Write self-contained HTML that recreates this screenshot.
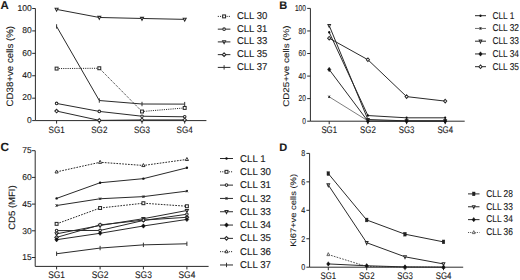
<!DOCTYPE html>
<html><head><meta charset="utf-8"><style>
html,body{margin:0;padding:0;background:#fff;}
svg{display:block;}
text{font-family:"Liberation Sans", sans-serif;fill:#1a1a1a;stroke:#1a1a1a;stroke-width:0.12px;text-rendering:geometricPrecision;}
</style></head><body>
<svg width="520" height="280" viewBox="0 0 520 280">
<rect width="520" height="280" fill="#fff"/>
<path d="M35.4,8.5V120.6H206.4" fill="none" stroke="#2a2a2a" stroke-width="1"/>
<path d="M32.199999999999996,120.60H35.4" stroke="#2a2a2a" stroke-width="1"/>
<text x="31.70" y="122.90" text-anchor="end" font-size="8.5">0</text>
<path d="M32.199999999999996,98.18H35.4" stroke="#2a2a2a" stroke-width="1"/>
<text x="31.70" y="100.48" text-anchor="end" font-size="8.5">20</text>
<path d="M32.199999999999996,75.76H35.4" stroke="#2a2a2a" stroke-width="1"/>
<text x="31.70" y="78.06" text-anchor="end" font-size="8.5">40</text>
<path d="M32.199999999999996,53.34H35.4" stroke="#2a2a2a" stroke-width="1"/>
<text x="31.70" y="55.64" text-anchor="end" font-size="8.5">60</text>
<path d="M32.199999999999996,30.92H35.4" stroke="#2a2a2a" stroke-width="1"/>
<text x="31.70" y="33.22" text-anchor="end" font-size="8.5">80</text>
<path d="M32.199999999999996,8.50H35.4" stroke="#2a2a2a" stroke-width="1"/>
<text x="31.70" y="10.80" text-anchor="end" font-size="8.5">100</text>
<path d="M56.60,120.6V123.6" stroke="#2a2a2a" stroke-width="1"/>
<text transform="translate(56.60,132.70) scale(0.88,1)" text-anchor="middle" font-size="9.2">SG1</text>
<path d="M99.30,120.6V123.6" stroke="#2a2a2a" stroke-width="1"/>
<text transform="translate(99.30,132.70) scale(0.88,1)" text-anchor="middle" font-size="9.2">SG2</text>
<path d="M142.00,120.6V123.6" stroke="#2a2a2a" stroke-width="1"/>
<text transform="translate(142.00,132.70) scale(0.88,1)" text-anchor="middle" font-size="9.2">SG3</text>
<path d="M184.70,120.6V123.6" stroke="#2a2a2a" stroke-width="1"/>
<text transform="translate(184.70,132.70) scale(0.88,1)" text-anchor="middle" font-size="9.2">SG4</text>
<text transform="translate(12.6,66.2) scale(0.96,1) rotate(-90)" text-anchor="middle" font-size="9.7">CD38+ve cells (%)</text>
<text x="0.50" y="8.60" font-size="11.4" font-weight="bold">A</text>
<path d="M56.60,68.59L99.30,68.25L142.00,111.52L184.70,107.93" fill="none" stroke="#2a2a2a" stroke-width="1" stroke-dasharray="1.1,1.1"/>
<rect x="55.15" y="67.14" width="2.90" height="2.90" fill="#fff" stroke="#2a2a2a" stroke-width="1.05"/>
<rect x="97.85" y="66.80" width="2.90" height="2.90" fill="#fff" stroke="#2a2a2a" stroke-width="1.05"/>
<rect x="140.55" y="110.07" width="2.90" height="2.90" fill="#fff" stroke="#2a2a2a" stroke-width="1.05"/>
<rect x="183.25" y="106.48" width="2.90" height="2.90" fill="#fff" stroke="#2a2a2a" stroke-width="1.05"/>
<path d="M56.60,103.45L99.30,111.41L142.00,116.23L184.70,116.79" fill="none" stroke="#2a2a2a" stroke-width="1"/>
<circle cx="56.60" cy="103.45" r="1.30" fill="#fff" stroke="#2a2a2a" stroke-width="1.05"/>
<circle cx="99.30" cy="111.41" r="1.30" fill="#fff" stroke="#2a2a2a" stroke-width="1.05"/>
<circle cx="142.00" cy="116.23" r="1.30" fill="#fff" stroke="#2a2a2a" stroke-width="1.05"/>
<circle cx="184.70" cy="116.79" r="1.30" fill="#fff" stroke="#2a2a2a" stroke-width="1.05"/>
<path d="M56.60,9.40L99.30,17.47L142.00,18.48L184.70,19.37" fill="none" stroke="#2a2a2a" stroke-width="1"/>
<path d="M55.10,8.30L58.10,8.30L56.60,11.20Z" fill="#fff" stroke="#2a2a2a" stroke-width="1.05"/>
<path d="M97.80,16.37L100.80,16.37L99.30,19.27Z" fill="#fff" stroke="#2a2a2a" stroke-width="1.05"/>
<path d="M140.50,17.38L143.50,17.38L142.00,20.28Z" fill="#fff" stroke="#2a2a2a" stroke-width="1.05"/>
<path d="M183.20,18.27L186.20,18.27L184.70,21.17Z" fill="#fff" stroke="#2a2a2a" stroke-width="1.05"/>
<path d="M56.60,111.07L99.30,120.38L142.00,119.93L184.70,119.93" fill="none" stroke="#2a2a2a" stroke-width="1"/>
<path d="M56.60,109.27L58.40,111.07L56.60,112.87L54.80,111.07Z" fill="#fff" stroke="#2a2a2a" stroke-width="1.05"/>
<path d="M99.30,118.58L101.10,120.38L99.30,122.18L97.50,120.38Z" fill="#fff" stroke="#2a2a2a" stroke-width="1.05"/>
<path d="M142.00,118.13L143.80,119.93L142.00,121.73L140.20,119.93Z" fill="#fff" stroke="#2a2a2a" stroke-width="1.05"/>
<path d="M184.70,118.13L186.50,119.93L184.70,121.73L182.90,119.93Z" fill="#fff" stroke="#2a2a2a" stroke-width="1.05"/>
<path d="M56.60,26.44L99.30,100.53L142.00,104.01L184.70,104.12" fill="none" stroke="#2a2a2a" stroke-width="1"/>
<path d="M56.60,24.24V28.64" stroke="#2a2a2a" stroke-width="0.95"/>
<path d="M99.30,98.33V102.73" stroke="#2a2a2a" stroke-width="0.95"/>
<path d="M142.00,101.81V106.21" stroke="#2a2a2a" stroke-width="0.95"/>
<path d="M184.70,101.92V106.32" stroke="#2a2a2a" stroke-width="0.95"/>
<path d="M217.8,16.40H230.4" stroke="#2a2a2a" stroke-width="1" stroke-dasharray="1.1,1.1"/>
<rect x="222.65" y="14.95" width="2.90" height="2.90" fill="#fff" stroke="#2a2a2a" stroke-width="1.05"/>
<text transform="translate(236.90,18.90) scale(0.965,1)" font-size="9.9">CLL 30</text>
<path d="M217.8,29.15H230.4" stroke="#2a2a2a" stroke-width="1"/>
<circle cx="224.10" cy="29.15" r="1.30" fill="#fff" stroke="#2a2a2a" stroke-width="1.05"/>
<text transform="translate(236.90,31.65) scale(0.965,1)" font-size="9.9">CLL 31</text>
<path d="M217.8,41.90H230.4" stroke="#2a2a2a" stroke-width="1"/>
<path d="M222.60,40.80L225.60,40.80L224.10,43.70Z" fill="#fff" stroke="#2a2a2a" stroke-width="1.05"/>
<text transform="translate(236.90,44.40) scale(0.965,1)" font-size="9.9">CLL 33</text>
<path d="M217.8,54.65H230.4" stroke="#2a2a2a" stroke-width="1"/>
<path d="M224.10,52.85L225.90,54.65L224.10,56.45L222.30,54.65Z" fill="#fff" stroke="#2a2a2a" stroke-width="1.05"/>
<text transform="translate(236.90,57.15) scale(0.965,1)" font-size="9.9">CLL 35</text>
<path d="M217.8,67.40H230.4" stroke="#2a2a2a" stroke-width="1"/>
<path d="M224.10,65.20V69.60" stroke="#2a2a2a" stroke-width="0.95"/>
<text transform="translate(236.90,69.90) scale(0.965,1)" font-size="9.9">CLL 37</text>
<path d="M310.4,8.4V121.2H464.7" fill="none" stroke="#2a2a2a" stroke-width="1"/>
<path d="M307.2,121.20H310.4" stroke="#2a2a2a" stroke-width="1"/>
<text transform="translate(306.00,124.00) scale(0.78,1)" text-anchor="end" font-size="8.5">0</text>
<path d="M307.2,98.64H310.4" stroke="#2a2a2a" stroke-width="1"/>
<text transform="translate(306.00,101.44) scale(0.78,1)" text-anchor="end" font-size="8.5">20</text>
<path d="M307.2,76.08H310.4" stroke="#2a2a2a" stroke-width="1"/>
<text transform="translate(306.00,78.88) scale(0.78,1)" text-anchor="end" font-size="8.5">40</text>
<path d="M307.2,53.52H310.4" stroke="#2a2a2a" stroke-width="1"/>
<text transform="translate(306.00,56.32) scale(0.78,1)" text-anchor="end" font-size="8.5">60</text>
<path d="M307.2,30.96H310.4" stroke="#2a2a2a" stroke-width="1"/>
<text transform="translate(306.00,33.76) scale(0.78,1)" text-anchor="end" font-size="8.5">80</text>
<path d="M307.2,8.40H310.4" stroke="#2a2a2a" stroke-width="1"/>
<text transform="translate(306.00,11.20) scale(0.78,1)" text-anchor="end" font-size="8.5">100</text>
<path d="M329.20,121.2V124.2" stroke="#2a2a2a" stroke-width="1"/>
<text transform="translate(329.20,132.90) scale(0.815,1)" text-anchor="middle" font-size="9.6">SG1</text>
<path d="M367.90,121.2V124.2" stroke="#2a2a2a" stroke-width="1"/>
<text transform="translate(367.90,132.90) scale(0.815,1)" text-anchor="middle" font-size="9.6">SG2</text>
<path d="M406.60,121.2V124.2" stroke="#2a2a2a" stroke-width="1"/>
<text transform="translate(406.60,132.90) scale(0.815,1)" text-anchor="middle" font-size="9.6">SG3</text>
<path d="M445.20,121.2V124.2" stroke="#2a2a2a" stroke-width="1"/>
<text transform="translate(445.20,132.90) scale(0.815,1)" text-anchor="middle" font-size="9.6">SG4</text>
<text transform="translate(289.2,66.1) scale(0.85,1) rotate(-90)" text-anchor="middle" font-size="9.8">CD25+ve cells (%)</text>
<text x="279.30" y="9.00" font-size="11" font-weight="bold">B</text>
<path d="M329.20,32.31L367.90,115.56L406.60,117.82L445.20,117.82" fill="none" stroke="#2a2a2a" stroke-width="1"/>
<g transform="translate(329.20,32.31) scale(0.89,1)"><circle cx="0.00" cy="0.00" r="1.2" fill="#111"/></g>
<g transform="translate(367.90,115.56) scale(0.89,1)"><circle cx="0.00" cy="0.00" r="1.2" fill="#111"/></g>
<g transform="translate(406.60,117.82) scale(0.89,1)"><circle cx="0.00" cy="0.00" r="1.2" fill="#111"/></g>
<g transform="translate(445.20,117.82) scale(0.89,1)"><circle cx="0.00" cy="0.00" r="1.2" fill="#111"/></g>
<path d="M329.20,96.84L367.90,120.86L406.60,120.64L445.20,120.64" fill="none" stroke="#707070" stroke-width="0.9"/>
<g transform="translate(329.20,96.84) scale(0.89,1)"><path d="M-1.10,-1.10L1.10,1.10M1.10,-1.10L-1.10,1.10M0.00,-1.20V1.20" stroke="#222" stroke-width="0.9"/></g>
<g transform="translate(367.90,120.86) scale(0.89,1)"><path d="M-1.10,-1.10L1.10,1.10M1.10,-1.10L-1.10,1.10M0.00,-1.20V1.20" stroke="#222" stroke-width="0.9"/></g>
<g transform="translate(406.60,120.64) scale(0.89,1)"><path d="M-1.10,-1.10L1.10,1.10M1.10,-1.10L-1.10,1.10M0.00,-1.20V1.20" stroke="#222" stroke-width="0.9"/></g>
<g transform="translate(445.20,120.64) scale(0.89,1)"><path d="M-1.10,-1.10L1.10,1.10M1.10,-1.10L-1.10,1.10M0.00,-1.20V1.20" stroke="#222" stroke-width="0.9"/></g>
<path d="M329.20,25.55L367.90,119.51L406.60,120.86L445.20,120.86" fill="none" stroke="#2a2a2a" stroke-width="1"/>
<g transform="translate(329.20,25.55) scale(0.89,1)"><path d="M-1.50,-1.10L1.50,-1.10L0.00,1.80Z" fill="#fff" stroke="#2a2a2a" stroke-width="1.05"/></g>
<g transform="translate(367.90,119.51) scale(0.89,1)"><path d="M-1.50,-1.10L1.50,-1.10L0.00,1.80Z" fill="#fff" stroke="#2a2a2a" stroke-width="1.05"/></g>
<g transform="translate(406.60,120.86) scale(0.89,1)"><path d="M-1.50,-1.10L1.50,-1.10L0.00,1.80Z" fill="#fff" stroke="#2a2a2a" stroke-width="1.05"/></g>
<g transform="translate(445.20,120.86) scale(0.89,1)"><path d="M-1.50,-1.10L1.50,-1.10L0.00,1.80Z" fill="#fff" stroke="#2a2a2a" stroke-width="1.05"/></g>
<path d="M329.20,69.54L367.90,121.20L406.60,121.20L445.20,121.20" fill="none" stroke="#2a2a2a" stroke-width="1"/>
<g transform="translate(329.20,69.54) scale(0.89,1)"><path d="M0.00,-2.20L1.87,0.00L0.00,2.20L-1.87,0.00Z" fill="#111" stroke="#111" stroke-width="0.5"/></g>
<g transform="translate(367.90,121.20) scale(0.89,1)"><path d="M0.00,-2.20L1.87,0.00L0.00,2.20L-1.87,0.00Z" fill="#111" stroke="#111" stroke-width="0.5"/></g>
<g transform="translate(406.60,121.20) scale(0.89,1)"><path d="M0.00,-2.20L1.87,0.00L0.00,2.20L-1.87,0.00Z" fill="#111" stroke="#111" stroke-width="0.5"/></g>
<g transform="translate(445.20,121.20) scale(0.89,1)"><path d="M0.00,-2.20L1.87,0.00L0.00,2.20L-1.87,0.00Z" fill="#111" stroke="#111" stroke-width="0.5"/></g>
<path d="M329.20,38.18L367.90,59.72L406.60,96.61L445.20,101.12" fill="none" stroke="#2a2a2a" stroke-width="1"/>
<g transform="translate(329.20,38.18) scale(0.89,1)"><path d="M0.00,-1.80L1.80,0.00L0.00,1.80L-1.80,0.00Z" fill="#fff" stroke="#2a2a2a" stroke-width="1.05"/></g>
<g transform="translate(367.90,59.72) scale(0.89,1)"><path d="M0.00,-1.80L1.80,0.00L0.00,1.80L-1.80,0.00Z" fill="#fff" stroke="#2a2a2a" stroke-width="1.05"/></g>
<g transform="translate(406.60,96.61) scale(0.89,1)"><path d="M0.00,-1.80L1.80,0.00L0.00,1.80L-1.80,0.00Z" fill="#fff" stroke="#2a2a2a" stroke-width="1.05"/></g>
<g transform="translate(445.20,101.12) scale(0.89,1)"><path d="M0.00,-1.80L1.80,0.00L0.00,1.80L-1.80,0.00Z" fill="#fff" stroke="#2a2a2a" stroke-width="1.05"/></g>
<path d="M475,15.70H486" stroke="#2a2a2a" stroke-width="1"/>
<g transform="translate(480.50,15.70) scale(0.89,1)"><circle cx="0.00" cy="0.00" r="1.2" fill="#111"/></g>
<text transform="translate(492.40,18.70) scale(0.845,1)" font-size="9.9">CLL 1</text>
<path d="M475,28.45H486" stroke="#707070" stroke-width="1"/>
<g transform="translate(480.50,28.45) scale(0.89,1)"><path d="M-1.10,-1.10L1.10,1.10M1.10,-1.10L-1.10,1.10M0.00,-1.20V1.20" stroke="#222" stroke-width="0.9"/></g>
<text transform="translate(492.40,31.45) scale(0.845,1)" font-size="9.9">CLL 32</text>
<path d="M475,41.20H486" stroke="#2a2a2a" stroke-width="1"/>
<g transform="translate(480.50,41.20) scale(0.89,1)"><path d="M-1.50,-1.10L1.50,-1.10L0.00,1.80Z" fill="#fff" stroke="#2a2a2a" stroke-width="1.05"/></g>
<text transform="translate(492.40,44.20) scale(0.845,1)" font-size="9.9">CLL 33</text>
<path d="M475,53.95H486" stroke="#2a2a2a" stroke-width="1"/>
<g transform="translate(480.50,53.95) scale(0.89,1)"><path d="M0.00,-2.20L1.87,0.00L0.00,2.20L-1.87,0.00Z" fill="#111" stroke="#111" stroke-width="0.5"/></g>
<text transform="translate(492.40,56.95) scale(0.845,1)" font-size="9.9">CLL 34</text>
<path d="M475,66.70H486" stroke="#2a2a2a" stroke-width="1"/>
<g transform="translate(480.50,66.70) scale(0.89,1)"><path d="M0.00,-1.80L1.80,0.00L0.00,1.80L-1.80,0.00Z" fill="#fff" stroke="#2a2a2a" stroke-width="1.05"/></g>
<text transform="translate(492.40,69.70) scale(0.845,1)" font-size="9.9">CLL 35</text>
<path d="M35.2,150.7V266.4H208.6" fill="none" stroke="#2a2a2a" stroke-width="1"/>
<path d="M32.0,257.50H35.2" stroke="#2a2a2a" stroke-width="1"/>
<text x="31.70" y="260.20" text-anchor="end" font-size="8.5">15</text>
<path d="M32.0,230.80H35.2" stroke="#2a2a2a" stroke-width="1"/>
<text x="31.70" y="233.50" text-anchor="end" font-size="8.5">30</text>
<path d="M32.0,204.10H35.2" stroke="#2a2a2a" stroke-width="1"/>
<text x="31.70" y="206.80" text-anchor="end" font-size="8.5">45</text>
<path d="M32.0,177.40H35.2" stroke="#2a2a2a" stroke-width="1"/>
<text x="31.70" y="180.10" text-anchor="end" font-size="8.5">60</text>
<path d="M32.0,150.70H35.2" stroke="#2a2a2a" stroke-width="1"/>
<text x="31.70" y="153.40" text-anchor="end" font-size="8.5">75</text>
<path d="M56.60,266.4V269.4" stroke="#2a2a2a" stroke-width="1"/>
<text transform="translate(56.60,278.40) scale(0.875,1)" text-anchor="middle" font-size="9.6">SG1</text>
<path d="M100.10,266.4V269.4" stroke="#2a2a2a" stroke-width="1"/>
<text transform="translate(100.10,278.40) scale(0.875,1)" text-anchor="middle" font-size="9.6">SG2</text>
<path d="M143.40,266.4V269.4" stroke="#2a2a2a" stroke-width="1"/>
<text transform="translate(143.40,278.40) scale(0.875,1)" text-anchor="middle" font-size="9.6">SG3</text>
<path d="M186.90,266.4V269.4" stroke="#2a2a2a" stroke-width="1"/>
<text transform="translate(186.90,278.40) scale(0.875,1)" text-anchor="middle" font-size="9.6">SG4</text>
<text transform="translate(15.0,207.6) scale(0.96,1) rotate(-90)" text-anchor="middle" font-size="9.5">CD5 (MFI)</text>
<text x="0.50" y="150.90" font-size="11.8" font-weight="bold">C</text>
<path d="M56.60,198.40L100.10,182.74L143.40,178.65L186.90,167.79" fill="none" stroke="#2a2a2a" stroke-width="1"/>
<circle cx="56.60" cy="198.40" r="1.2" fill="#111"/>
<circle cx="100.10" cy="182.74" r="1.2" fill="#111"/>
<circle cx="143.40" cy="178.65" r="1.2" fill="#111"/>
<circle cx="186.90" cy="167.79" r="1.2" fill="#111"/>
<path d="M56.60,223.86L100.10,208.02L143.40,203.21L186.90,206.24" fill="none" stroke="#2a2a2a" stroke-width="1" stroke-dasharray="1.7,1.2"/>
<rect x="55.15" y="222.41" width="2.90" height="2.90" fill="#fff" stroke="#2a2a2a" stroke-width="1.05"/>
<rect x="98.65" y="206.57" width="2.90" height="2.90" fill="#fff" stroke="#2a2a2a" stroke-width="1.05"/>
<rect x="141.95" y="201.76" width="2.90" height="2.90" fill="#fff" stroke="#2a2a2a" stroke-width="1.05"/>
<rect x="185.45" y="204.79" width="2.90" height="2.90" fill="#fff" stroke="#2a2a2a" stroke-width="1.05"/>
<path d="M56.60,230.62L100.10,230.44L143.40,220.48L186.90,214.25" fill="none" stroke="#2a2a2a" stroke-width="1"/>
<circle cx="56.60" cy="230.62" r="1.30" fill="#fff" stroke="#2a2a2a" stroke-width="1.05"/>
<circle cx="100.10" cy="230.44" r="1.30" fill="#fff" stroke="#2a2a2a" stroke-width="1.05"/>
<circle cx="143.40" cy="220.48" r="1.30" fill="#fff" stroke="#2a2a2a" stroke-width="1.05"/>
<circle cx="186.90" cy="214.25" r="1.30" fill="#fff" stroke="#2a2a2a" stroke-width="1.05"/>
<path d="M56.60,205.52L100.10,198.76L143.40,196.62L186.90,191.11" fill="none" stroke="#2a2a2a" stroke-width="1"/>
<path d="M55.50,204.42L57.70,206.62M57.70,204.42L55.50,206.62M56.60,204.32V206.72" stroke="#2a2a2a" stroke-width="0.9"/>
<path d="M99.00,197.66L101.20,199.86M101.20,197.66L99.00,199.86M100.10,197.56V199.96" stroke="#2a2a2a" stroke-width="0.9"/>
<path d="M142.30,195.52L144.50,197.72M144.50,195.52L142.30,197.72M143.40,195.42V197.82" stroke="#2a2a2a" stroke-width="0.9"/>
<path d="M185.80,190.01L188.00,192.21M188.00,190.01L185.80,192.21M186.90,189.91V192.31" stroke="#2a2a2a" stroke-width="0.9"/>
<path d="M56.60,233.83L100.10,225.46L143.40,218.70L186.90,210.51" fill="none" stroke="#2a2a2a" stroke-width="1"/>
<path d="M55.10,232.73L58.10,232.73L56.60,235.63Z" fill="#fff" stroke="#2a2a2a" stroke-width="1.05"/>
<path d="M98.60,224.36L101.60,224.36L100.10,227.26Z" fill="#fff" stroke="#2a2a2a" stroke-width="1.05"/>
<path d="M141.90,217.60L144.90,217.60L143.40,220.50Z" fill="#fff" stroke="#2a2a2a" stroke-width="1.05"/>
<path d="M185.40,209.41L188.40,209.41L186.90,212.31Z" fill="#fff" stroke="#2a2a2a" stroke-width="1.05"/>
<path d="M56.60,237.39L100.10,224.93L143.40,220.12L186.90,217.27" fill="none" stroke="#2a2a2a" stroke-width="1"/>
<path d="M56.60,235.59L58.40,237.39L56.60,239.19L54.80,237.39Z" fill="#fff" stroke="#2a2a2a" stroke-width="1.05"/>
<path d="M100.10,223.13L101.90,224.93L100.10,226.73L98.30,224.93Z" fill="#fff" stroke="#2a2a2a" stroke-width="1.05"/>
<path d="M143.40,218.32L145.20,220.12L143.40,221.92L141.60,220.12Z" fill="#fff" stroke="#2a2a2a" stroke-width="1.05"/>
<path d="M186.90,215.47L188.70,217.27L186.90,219.07L185.10,217.27Z" fill="#fff" stroke="#2a2a2a" stroke-width="1.05"/>
<path d="M56.60,171.88L100.10,162.27L143.40,165.47L186.90,159.42" fill="none" stroke="#2a2a2a" stroke-width="1" stroke-dasharray="1.7,1.2"/>
<path d="M55.00,172.98L58.20,172.98L56.60,169.98Z" fill="#fff" stroke="#2a2a2a" stroke-width="0.95"/>
<path d="M98.50,163.37L101.70,163.37L100.10,160.37Z" fill="#fff" stroke="#2a2a2a" stroke-width="0.95"/>
<path d="M141.80,166.57L145.00,166.57L143.40,163.57Z" fill="#fff" stroke="#2a2a2a" stroke-width="0.95"/>
<path d="M185.30,160.52L188.50,160.52L186.90,157.52Z" fill="#fff" stroke="#2a2a2a" stroke-width="0.95"/>
<path d="M56.60,253.76L100.10,248.07L143.40,244.86L186.90,243.79" fill="none" stroke="#2a2a2a" stroke-width="1"/>
<path d="M56.60,251.56V255.96" stroke="#2a2a2a" stroke-width="0.95"/>
<path d="M100.10,245.87V250.27" stroke="#2a2a2a" stroke-width="0.95"/>
<path d="M143.40,242.66V247.06" stroke="#2a2a2a" stroke-width="0.95"/>
<path d="M186.90,241.59V245.99" stroke="#2a2a2a" stroke-width="0.95"/>
<path d="M56.60,239.70L100.10,233.29L143.40,225.99L186.90,219.41" fill="none" stroke="#2a2a2a" stroke-width="1"/>
<path d="M56.60,237.50L58.47,239.70L56.60,241.90L54.73,239.70Z" fill="#111" stroke="#111" stroke-width="0.5"/>
<path d="M100.10,231.09L101.97,233.29L100.10,235.49L98.23,233.29Z" fill="#111" stroke="#111" stroke-width="0.5"/>
<path d="M143.40,223.79L145.27,225.99L143.40,228.19L141.53,225.99Z" fill="#111" stroke="#111" stroke-width="0.5"/>
<path d="M186.90,217.21L188.77,219.41L186.90,221.61L185.03,219.41Z" fill="#111" stroke="#111" stroke-width="0.5"/>
<path d="M220.0,158.50H233.0" stroke="#2a2a2a" stroke-width="1"/>
<circle cx="226.50" cy="158.50" r="1.2" fill="#111"/>
<text transform="translate(240.10,161.60) scale(0.98,1)" font-size="9.9">CLL 1</text>
<path d="M220.0,171.81H233.0" stroke="#2a2a2a" stroke-width="1" stroke-dasharray="1.1,1.1"/>
<rect x="225.05" y="170.36" width="2.90" height="2.90" fill="#fff" stroke="#2a2a2a" stroke-width="1.05"/>
<text transform="translate(240.10,174.91) scale(0.98,1)" font-size="9.9">CLL 30</text>
<path d="M220.0,185.12H233.0" stroke="#2a2a2a" stroke-width="1"/>
<circle cx="226.50" cy="185.12" r="1.30" fill="#fff" stroke="#2a2a2a" stroke-width="1.05"/>
<text transform="translate(240.10,188.22) scale(0.98,1)" font-size="9.9">CLL 31</text>
<path d="M220.0,198.43H233.0" stroke="#2a2a2a" stroke-width="1"/>
<path d="M225.40,197.33L227.60,199.53M227.60,197.33L225.40,199.53M226.50,197.23V199.63" stroke="#2a2a2a" stroke-width="0.9"/>
<text transform="translate(240.10,201.53) scale(0.98,1)" font-size="9.9">CLL 32</text>
<path d="M220.0,211.74H233.0" stroke="#2a2a2a" stroke-width="1"/>
<path d="M225.00,210.64L228.00,210.64L226.50,213.54Z" fill="#fff" stroke="#2a2a2a" stroke-width="1.05"/>
<text transform="translate(240.10,214.84) scale(0.98,1)" font-size="9.9">CLL 33</text>
<path d="M220.0,225.05H233.0" stroke="#2a2a2a" stroke-width="1"/>
<path d="M226.50,222.85L228.37,225.05L226.50,227.25L224.63,225.05Z" fill="#111" stroke="#111" stroke-width="0.5"/>
<text transform="translate(240.10,228.15) scale(0.98,1)" font-size="9.9">CLL 34</text>
<path d="M220.0,238.36H233.0" stroke="#2a2a2a" stroke-width="1"/>
<path d="M226.50,236.56L228.30,238.36L226.50,240.16L224.70,238.36Z" fill="#fff" stroke="#2a2a2a" stroke-width="1.05"/>
<text transform="translate(240.10,241.46) scale(0.98,1)" font-size="9.9">CLL 35</text>
<path d="M220.0,251.67H233.0" stroke="#2a2a2a" stroke-width="1" stroke-dasharray="1.1,1.1"/>
<path d="M224.90,252.77L228.10,252.77L226.50,249.77Z" fill="#fff" stroke="#2a2a2a" stroke-width="0.95"/>
<text transform="translate(240.10,254.77) scale(0.98,1)" font-size="9.9">CLL 36</text>
<path d="M220.0,264.98H233.0" stroke="#2a2a2a" stroke-width="1"/>
<path d="M226.50,262.78V267.18" stroke="#2a2a2a" stroke-width="0.95"/>
<text transform="translate(240.10,268.08) scale(0.98,1)" font-size="9.9">CLL 37</text>
<path d="M309.6,153.4V267.2H463.2" fill="none" stroke="#2a2a2a" stroke-width="1"/>
<path d="M306.40000000000003,267.20H309.6" stroke="#2a2a2a" stroke-width="1"/>
<text transform="translate(305.30,270.10) scale(0.84,1)" text-anchor="end" font-size="8.5">0</text>
<path d="M306.40000000000003,238.75H309.6" stroke="#2a2a2a" stroke-width="1"/>
<text transform="translate(305.30,241.65) scale(0.84,1)" text-anchor="end" font-size="8.5">2</text>
<path d="M306.40000000000003,210.30H309.6" stroke="#2a2a2a" stroke-width="1"/>
<text transform="translate(305.30,213.20) scale(0.84,1)" text-anchor="end" font-size="8.5">4</text>
<path d="M306.40000000000003,181.85H309.6" stroke="#2a2a2a" stroke-width="1"/>
<text transform="translate(305.30,184.75) scale(0.84,1)" text-anchor="end" font-size="8.5">6</text>
<path d="M306.40000000000003,153.40H309.6" stroke="#2a2a2a" stroke-width="1"/>
<text transform="translate(305.30,156.30) scale(0.84,1)" text-anchor="end" font-size="8.5">8</text>
<path d="M328.30,267.2V270.2" stroke="#2a2a2a" stroke-width="1"/>
<text transform="translate(328.30,278.60) scale(0.815,1)" text-anchor="middle" font-size="9.6">SG1</text>
<path d="M366.70,267.2V270.2" stroke="#2a2a2a" stroke-width="1"/>
<text transform="translate(366.70,278.60) scale(0.815,1)" text-anchor="middle" font-size="9.6">SG2</text>
<path d="M405.00,267.2V270.2" stroke="#2a2a2a" stroke-width="1"/>
<text transform="translate(405.00,278.60) scale(0.815,1)" text-anchor="middle" font-size="9.6">SG3</text>
<path d="M443.50,267.2V270.2" stroke="#2a2a2a" stroke-width="1"/>
<text transform="translate(443.50,278.60) scale(0.815,1)" text-anchor="middle" font-size="9.6">SG4</text>
<text transform="translate(296.4,210.3) scale(0.85,1) rotate(-90)" text-anchor="middle" font-size="9.4">Ki67+ve cells (%)</text>
<text x="279.30" y="150.90" font-size="11" font-weight="bold">D</text>
<path d="M328.30,254.54L366.70,266.49L405.00,267.20L443.50,267.20" fill="none" stroke="#555" stroke-width="1" stroke-dasharray="1.7,1.2"/>
<g transform="translate(328.30,254.54) scale(0.89,1)"><path d="M-1.60,1.10L1.60,1.10L0.00,-1.90Z" fill="#fff" stroke="#555" stroke-width="0.95"/></g>
<g transform="translate(366.70,266.49) scale(0.89,1)"><path d="M-1.60,1.10L1.60,1.10L0.00,-1.90Z" fill="#fff" stroke="#555" stroke-width="0.95"/></g>
<g transform="translate(405.00,267.20) scale(0.89,1)"><path d="M-1.60,1.10L1.60,1.10L0.00,-1.90Z" fill="#fff" stroke="#555" stroke-width="0.95"/></g>
<g transform="translate(443.50,267.20) scale(0.89,1)"><path d="M-1.60,1.10L1.60,1.10L0.00,-1.90Z" fill="#fff" stroke="#555" stroke-width="0.95"/></g>
<path d="M328.30,173.60L366.70,219.97L405.00,234.20L443.50,241.88" fill="none" stroke="#2a2a2a" stroke-width="1"/>
<g transform="translate(328.30,173.60) scale(0.89,1)"><rect x="-1.50" y="-1.90" width="3.0" height="3.8" fill="#222" stroke="#222" stroke-width="0.4"/></g>
<g transform="translate(366.70,219.97) scale(0.89,1)"><rect x="-1.50" y="-1.90" width="3.0" height="3.8" fill="#222" stroke="#222" stroke-width="0.4"/></g>
<g transform="translate(405.00,234.20) scale(0.89,1)"><rect x="-1.50" y="-1.90" width="3.0" height="3.8" fill="#222" stroke="#222" stroke-width="0.4"/></g>
<g transform="translate(443.50,241.88) scale(0.89,1)"><rect x="-1.50" y="-1.90" width="3.0" height="3.8" fill="#222" stroke="#222" stroke-width="0.4"/></g>
<path d="M328.30,184.98L366.70,242.73L405.00,256.82L443.50,263.93" fill="none" stroke="#2a2a2a" stroke-width="1"/>
<g transform="translate(328.30,184.98) scale(0.89,1)"><path d="M-1.50,-1.10L1.50,-1.10L0.00,1.80Z" fill="#fff" stroke="#2a2a2a" stroke-width="1.05"/></g>
<g transform="translate(366.70,242.73) scale(0.89,1)"><path d="M-1.50,-1.10L1.50,-1.10L0.00,1.80Z" fill="#fff" stroke="#2a2a2a" stroke-width="1.05"/></g>
<g transform="translate(405.00,256.82) scale(0.89,1)"><path d="M-1.50,-1.10L1.50,-1.10L0.00,1.80Z" fill="#fff" stroke="#2a2a2a" stroke-width="1.05"/></g>
<g transform="translate(443.50,263.93) scale(0.89,1)"><path d="M-1.50,-1.10L1.50,-1.10L0.00,1.80Z" fill="#fff" stroke="#2a2a2a" stroke-width="1.05"/></g>
<path d="M328.30,263.93L366.70,265.78L405.00,266.92L443.50,267.20" fill="none" stroke="#2a2a2a" stroke-width="1"/>
<g transform="translate(328.30,263.93) scale(0.89,1)"><path d="M0.00,-2.20L1.87,0.00L0.00,2.20L-1.87,0.00Z" fill="#111" stroke="#111" stroke-width="0.5"/></g>
<g transform="translate(366.70,265.78) scale(0.89,1)"><path d="M0.00,-2.20L1.87,0.00L0.00,2.20L-1.87,0.00Z" fill="#111" stroke="#111" stroke-width="0.5"/></g>
<g transform="translate(405.00,266.92) scale(0.89,1)"><path d="M0.00,-2.20L1.87,0.00L0.00,2.20L-1.87,0.00Z" fill="#111" stroke="#111" stroke-width="0.5"/></g>
<g transform="translate(443.50,267.20) scale(0.89,1)"><path d="M0.00,-2.20L1.87,0.00L0.00,2.20L-1.87,0.00Z" fill="#111" stroke="#111" stroke-width="0.5"/></g>
<path d="M468,193.90H479.5" stroke="#2a2a2a" stroke-width="1"/>
<g transform="translate(473.75,193.90) scale(0.89,1)"><rect x="-1.50" y="-1.90" width="3.0" height="3.8" fill="#222" stroke="#222" stroke-width="0.4"/></g>
<text transform="translate(486.20,196.70) scale(0.85,1)" font-size="9.9">CLL 28</text>
<path d="M468,206.77H479.5" stroke="#2a2a2a" stroke-width="1"/>
<g transform="translate(473.75,206.77) scale(0.89,1)"><path d="M-1.50,-1.10L1.50,-1.10L0.00,1.80Z" fill="#fff" stroke="#2a2a2a" stroke-width="1.05"/></g>
<text transform="translate(486.20,209.57) scale(0.85,1)" font-size="9.9">CLL 33</text>
<path d="M468,219.64H479.5" stroke="#2a2a2a" stroke-width="1"/>
<g transform="translate(473.75,219.64) scale(0.89,1)"><path d="M0.00,-2.20L1.87,0.00L0.00,2.20L-1.87,0.00Z" fill="#111" stroke="#111" stroke-width="0.5"/></g>
<text transform="translate(486.20,222.44) scale(0.85,1)" font-size="9.9">CLL 34</text>
<path d="M468,232.51H479.5" stroke="#555" stroke-width="1" stroke-dasharray="1.1,1.1"/>
<g transform="translate(473.75,232.51) scale(0.89,1)"><path d="M-1.60,1.10L1.60,1.10L0.00,-1.90Z" fill="#fff" stroke="#555" stroke-width="0.95"/></g>
<text transform="translate(486.20,235.31) scale(0.85,1)" font-size="9.9">CLL 36</text>
</svg>
</body></html>
